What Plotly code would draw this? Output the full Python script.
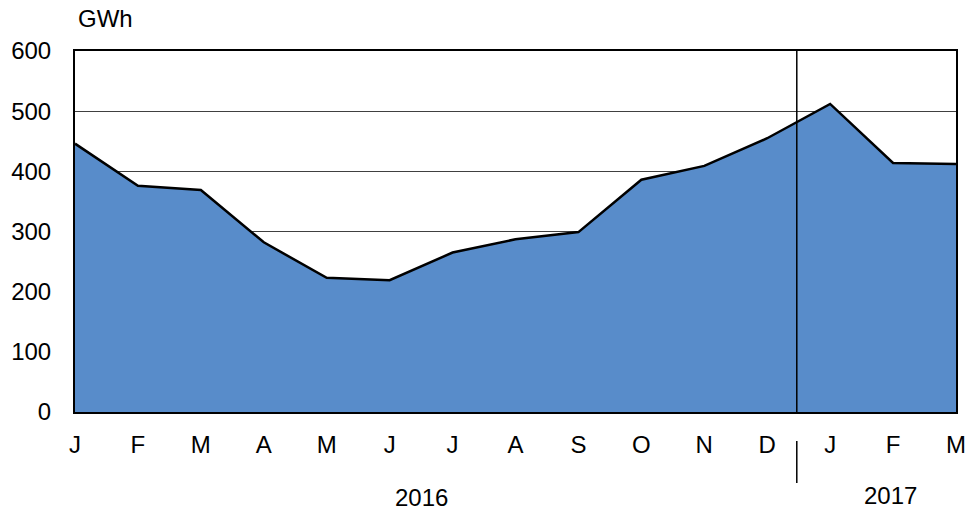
import plotly.graph_objects as go

months = ["J", "F", "M", "A", "M", "J", "J", "A", "S", "O", "N", "D", "J", "F", "M"]
values = [446, 376, 369, 282, 223, 219, 265, 287, 299, 386, 409, 455, 512, 414, 412]
y_ticks = [0, 100, 200, 300, 400, 500, 600]
years = ["2016", "2017"]
year_pos = [5.51, 12.96]
year_y = [-0.238, -0.230]
divider = 11.47

xs = list(range(len(values)))
FONT = "Liberation Sans, Arial, sans-serif"
FS = 24

fig = go.Figure()
fig.add_trace(go.Scatter(
    x=xs, y=values, mode="lines", fill="tozeroy",
    fillcolor="#588CCA", line=dict(color="black", width=2.5),
    hoverinfo="skip", showlegend=False,
))

fig.add_shape(type="line", xref="x", yref="paper", x0=divider, x1=divider, y0=0, y1=1,
              line=dict(color="black", width=1.5), layer="above")
fig.add_shape(type="line", xref="x", yref="paper", x0=divider, x1=divider, y0=-0.08, y1=-0.197,
              line=dict(color="black", width=1.5))

for yr, pos, yy in zip(years, year_pos, year_y):
    fig.add_annotation(x=pos, xref="x", y=yy, yref="paper", text=yr, showarrow=False,
                       font=dict(size=FS, color="black", family=FONT), yanchor="middle")

fig.add_annotation(x=0.035, xref="paper", y=1.091, yref="paper", text="GWh", showarrow=False,
                   font=dict(size=FS, color="black", family=FONT), xanchor="center", yanchor="middle")

fig.update_layout(
    width=972, height=515,
    margin=dict(l=75, r=16, t=51, b=103),
    paper_bgcolor="white", plot_bgcolor="white",
    font=dict(family=FONT, size=FS, color="black"),
    xaxis=dict(range=[0, 14], tickmode="array", tickvals=xs, ticktext=months,
               showgrid=False, zeroline=False, showline=True, mirror=True,
               linecolor="black", linewidth=2, ticks="", ticklabelstandoff=10,
               tickfont=dict(size=FS), automargin=False),
    yaxis=dict(range=[0, 600], tickmode="array", tickvals=y_ticks,
               showgrid=True, gridcolor="#404040", gridwidth=1, zeroline=False,
               showline=True, mirror=True, linecolor="black", linewidth=2,
               ticks="", ticklabelstandoff=17, tickfont=dict(size=FS), automargin=False),
)

fig.write_html("out.html", config={"displayModeBar": False},
               post_script="document.body.style.margin='0';document.body.style.overflow='hidden';")
